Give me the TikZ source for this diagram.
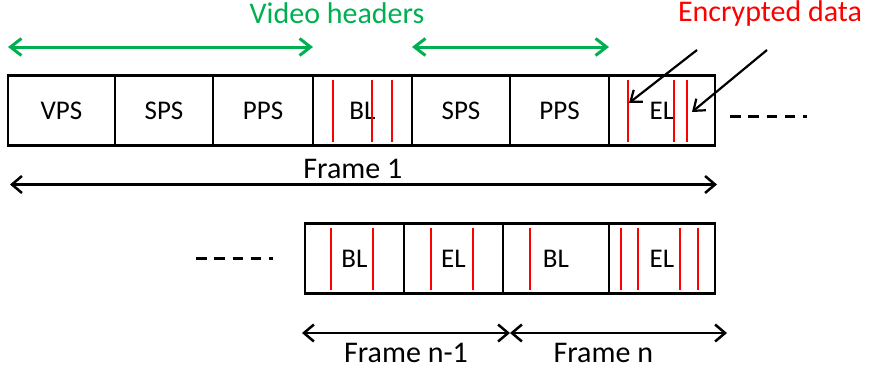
\documentclass[tikz,border=0pt]{standalone}
\usepackage{fontspec}
\setmainfont{Carlito}
\usetikzlibrary{positioning,arrows.meta}

\begin{document}
\begin{tikzpicture}[x=1pt,y=-1pt]
\def\H{70pt}
\def\W{99pt}
\definecolor{header color}{RGB}{0,176,80}
\colorlet{crypt color}{red}
\tikzset{
  every node/.style={font=\fontsize{30}{36}\selectfont},
  cell/.style={draw,line width=2.5pt,minimum height=\H,minimum width=\W,inner sep=0pt,outer sep=0pt,font=\fontsize{27}{32}\selectfont},
  wide cell/.style={cell,minimum width=106pt},
  crypt/.style={crypt color,line width=2.2pt},
  header path/.style={<->,>={Straight Barb[length=11pt,width=17pt]},header color,line width=3pt},
  frame path/.style={<->,>={Straight Barb[length=10pt,width=17pt]},line width=2.5pt},
  pointer/.style={->,>={Straight Barb[length=10pt,width=15pt]},line width=2.2pt},
  more/.style={line width=3pt,dash pattern=on 10.5pt off 7.8pt}
}
\useasboundingbox (0,0) rectangle (870,378);

%FRAME 1
\node[cell,minimum width=107pt,anchor=north west] (VPS) at (8,75.5) {VPS};
\node[cell,minimum width=98pt] (SPS1) [right=0pt of VPS] {SPS};
\node[cell,minimum width=100pt] (PPS1) [right=0pt of SPS1] {PPS};
\node[cell] (BL1) [right=0pt of PPS1] {BL};
\node[cell,minimum width=98pt] (SPS2) [right=0pt of BL1] {SPS};
\node[cell] (PPS2) [right=0pt of SPS2] {PPS};
\node[wide cell] (EL1) [right=0pt of PPS2] {EL};

%FRAMES N-1, N
\node[cell,anchor=north west] (BLa) at (305,223.5) {BL};
\node[cell] (ELa) [right=0pt of BLa] {EL};
\node[wide cell] (BLb) [right=0pt of ELa] {BL};
\node[wide cell] (ELb) [right=0pt of BLb] {EL};

%ENCRYPTED SLICES
\foreach \x in {20,59,79}
  \draw[crypt] ([xshift=\x pt,yshift=-4.5pt]BL1.north west) -- ([xshift=\x pt,yshift=4pt]BL1.south west);
\foreach \x in {19,65,78}
  \draw[crypt] ([xshift=\x pt,yshift=-4.5pt]EL1.north west) -- ([xshift=\x pt,yshift=4pt]EL1.south west);
\foreach \x in {26,68}
  \draw[crypt] ([xshift=\x pt,yshift=-4pt]BLa.north west) -- ([xshift=\x pt,yshift=4pt]BLa.south west);
\foreach \x in {27,69}
  \draw[crypt] ([xshift=\x pt,yshift=-4pt]ELa.north west) -- ([xshift=\x pt,yshift=4pt]ELa.south west);
\draw[crypt] ([xshift=27pt,yshift=-4pt]BLb.north west) -- ([xshift=27pt,yshift=4pt]BLb.south west);
\foreach \x in {12,29,71,89}
  \draw[crypt] ([xshift=\x pt,yshift=-4pt]ELb.north west) -- ([xshift=\x pt,yshift=4pt]ELb.south west);

%LABELS
\node[header color] (VH) at (337,13) {Video headers};
\node[crypt color] (ED) at (770,13) {Encrypted data};
\coordinate (ED1) at (697,50);
\coordinate (ED2) at (767,50);
\coordinate (T1) at (629,103);
\coordinate (T2) at (692,112);

%PATHS
\draw[header path] ([yshift=28.5pt]VPS.north west) -- ([yshift=28.5pt]PPS1.north east);
\draw[header path] ([yshift=28.5pt]SPS2.north west) -- ([yshift=28.5pt]PPS2.north east);
\draw[pointer] (ED1) -- (T1);
\draw[pointer] (ED2) -- (T2);
\draw[frame path] ([xshift=2pt,yshift=-39pt]VPS.south west) -- node[above,pos=.485,yshift=1pt] (F1) {Frame 1} ([xshift=2pt,yshift=-39pt]EL1.south east);
%%frames n-1, n
\coordinate (L) at (302,333);
\coordinate (M) at (510,333);
\coordinate (R) at (727,333);
\draw[frame path] (L) -- node[below,pos=.5,yshift=-6pt] (FA) {Frame n-1} (M);
\draw[frame path] (M) -- node[below,pos=.43,yshift=-6pt] (FB) {Frame n} (R);
%%more slices
\draw[more] ([xshift=15pt,yshift=-6pt]EL1.east) -- ++(77,0);
\draw[more] ([xshift=-109pt]BLa.west) -- ++(77,0);

\end{tikzpicture}
\end{document}
